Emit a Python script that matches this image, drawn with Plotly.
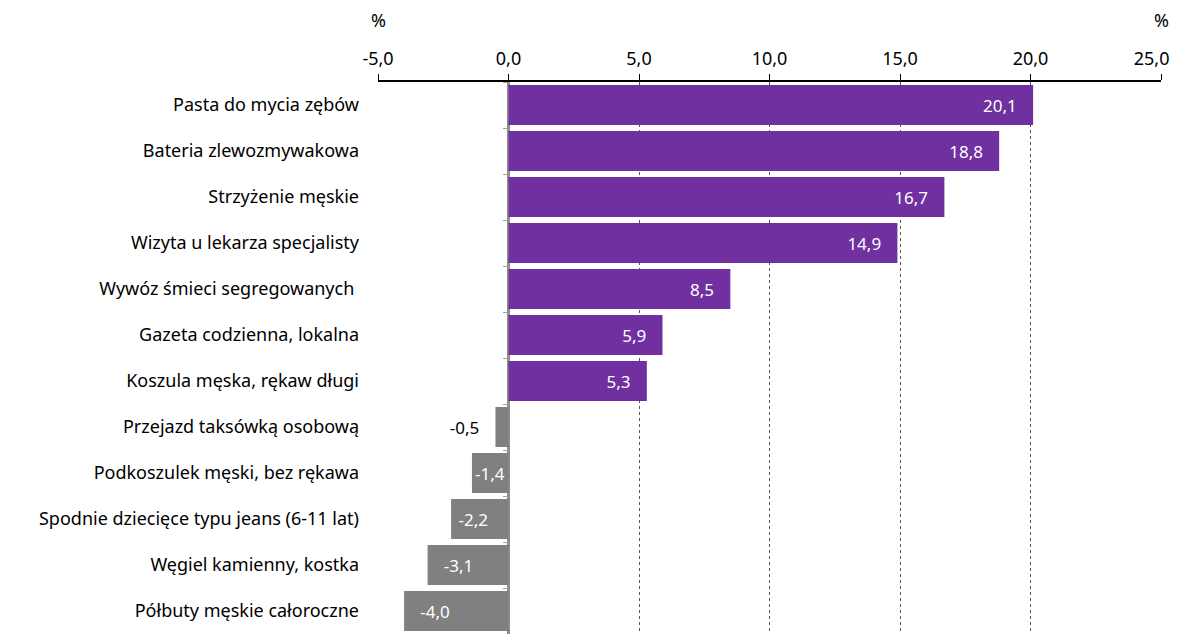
import plotly.graph_objects as go

categories = [
    "Pasta do mycia zębów",
    "Bateria zlewozmywakowa",
    "Strzyżenie męskie",
    "Wizyta u lekarza specjalisty",
    "Wywóz śmieci segregowanych\u00a0",
    "Gazeta codzienna, lokalna",
    "Koszula męska, rękaw długi",
    "Przejazd taksówką osobową",
    "Podkoszulek męski, bez rękawa",
    "Spodnie dziecięce typu jeans (6-11 lat)",
    "Węgiel kamienny, kostka",
    "Półbuty męskie całoroczne",
]
values = [20.1, 18.8, 16.7, 14.9, 8.5, 5.9, 5.3, -0.5, -1.4, -2.2, -3.1, -4.0]
tick_vals = [-5, 0, 5, 10, 15, 20, 25]
tick_text = ["-5,0", "0,0", "5,0", "10,0", "15,0", "20,0", "25,0"]

PURPLE = "#7030A0"
GRAY = "#808080"
FONT = "Noto Sans"
NB = "\u00a0"

colors = [PURPLE if v >= 0 else GRAY for v in values]
positions = ["outside" if abs(v) < 1 else "inside" for v in values]
textcolors = ["#000000" if p == "outside" else "#FFFFFF" for p in positions]


def label(v):
    s = f"{v:.1f}".replace(".", ",")
    if v >= 0 or abs(v) < 1:
        return s + NB * 3
    if abs(v) < 2:
        return s
    if abs(v) < 2.5:
        return NB + s
    return NB * 3 + s


texts = [label(v) for v in values]
# keep the last tick label clear of the right page edge
tick_labels = tick_text[:-1] + [tick_text[-1] + NB * 4]

fig = go.Figure()
fig.add_trace(go.Bar(
    y=categories, x=values, orientation="h",
    marker=dict(color=colors, line=dict(width=0)),
    text=texts, textposition=positions,
    insidetextanchor="end",
    textfont=dict(family=FONT, size=17, color=textcolors),
    cliponaxis=False,
    width=0.87,
    hoverinfo="skip",
))

# boundary ticks on the zero line
fig.add_trace(go.Scatter(x=[None], y=[None], yaxis="y2", showlegend=False))

fig.update_layout(
    width=1171, height=626,
    margin=dict(l=370, r=18, t=74, b=0, autoexpand=False),
    plot_bgcolor="white", paper_bgcolor="white",
    showlegend=False,
    font=dict(family=FONT, size=18, color="#000000"),
    uniformtext=dict(minsize=17, mode="show"),
    xaxis=dict(
        side="top", range=[-5, 25], tickvals=tick_vals, ticktext=tick_labels,
        showline=True, linecolor="#000000", linewidth=1.5,
        ticks="outside", ticklen=6, tickcolor="#000000", tickwidth=1,
        showgrid=True, gridcolor="#555555", griddash="dot", gridwidth=1,
        zeroline=True, zerolinecolor="#8c8c8c", zerolinewidth=2.5,
        tickfont=dict(size=18), ticklabelstandoff=2, fixedrange=True,
        ticklabeloverflow="allow", automargin=False,
    ),
    yaxis=dict(
        categoryorder="array", categoryarray=categories,
        autorange="reversed",
        showgrid=False, zeroline=False, showline=False,
        ticks="", ticklabelstandoff=18, automargin=False,
        tickfont=dict(size=18),
    ),
    yaxis2=dict(
        overlaying="y", anchor="free", position=1/6, side="left",
        range=[11.5, -0.5], tickvals=[i + 0.5 for i in range(-1, 12)],
        showticklabels=False, ticks="outside", ticklen=6, tickcolor="#a0a0a0",
        tickwidth=1, showgrid=False, zeroline=False, showline=False,
        automargin=False,
    ),
    annotations=[
        dict(text="%", x=0, y=1, xref="paper", yref="paper", xanchor="center",
             yanchor="middle", yshift=62, showarrow=False, font=dict(size=18)),
        dict(text="%", x=1, y=1, xref="paper", yref="paper", xanchor="center",
             yanchor="middle", yshift=62, showarrow=False, font=dict(size=18)),
    ],
)

fig.write_html("out.html")
